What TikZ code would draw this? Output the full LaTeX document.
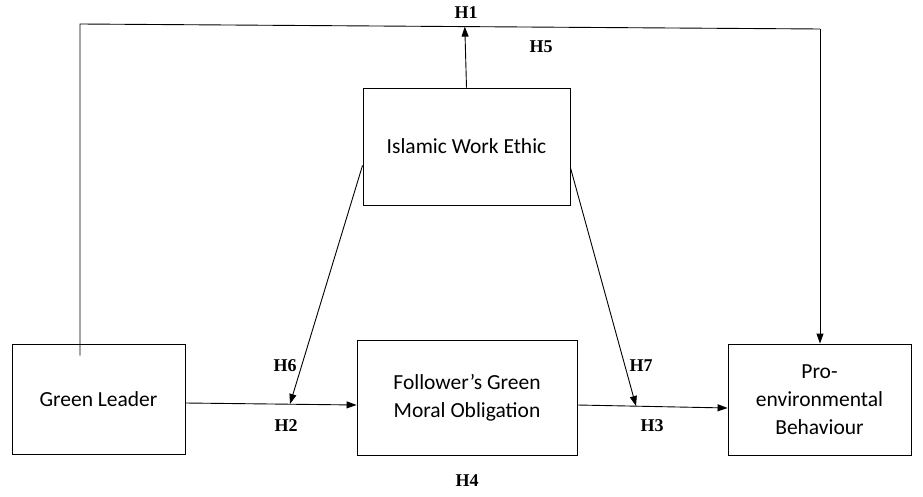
\documentclass[tikz,border=0pt]{standalone}
\usepackage{fontspec}
\setmainfont{Liberation Serif}
\newfontfamily\boxfont{Carlito}
\usetikzlibrary{arrows.meta,calc}

\tikzset{
  varbox/.style={draw, line width=0.9pt, align=center, inner sep=0pt,
    font=\boxfont\fontsize{21.5}{28}\selectfont},
  hlabel/.style={font=\bfseries\fontsize{18}{20}\selectfont},
  link/.style={line width=0.9pt},
  arrowlink/.style={line width=0.9pt, -{Triangle[length=10pt,width=7pt]}}
}

\begin{document}
\begin{tikzpicture}[x=1pt,y=-1pt]
  \useasboundingbox (0,0) rectangle (923,497);

  % variabilele
  \node[varbox, minimum width=173, minimum height=110] (leader) at (98.5,399) {Green Leader};
  \node[varbox, minimum width=207, minimum height=117] (iwe) at (466.5,146.5) {Islamic Work Ethic};
  \node[varbox, minimum width=220, minimum height=115] (obligation) at (467,397.5) {Follower’s Green\\Moral Obligation};
  \node[varbox, minimum width=183, minimum height=111] (behaviour) at (819.5,399.5) {Pro-\\environmental\\Behaviour};

  % linia de sus
  \coordinate (topleft) at (80,24);
  \coordinate (topright) at (820,29);
  \coordinate (topmid) at ($(topleft)!0.52!(topright)$);
  \draw[link] (leader.north -| topleft) ++(0,12) -- (topleft) -- (topright);
  \draw[arrowlink] (topright) -- (behaviour.north -| topright);
  \draw[arrowlink] (iwe.north) -- (topmid);

  % efectele directe
  \draw[arrowlink] (leader.east |- 0,403) coordinate (gl) -- (obligation.west |- 0,405);
  \draw[arrowlink] (obligation.east |- 0,405) -- (behaviour.west |- 0,408);

  % moderarea
  \coordinate (modleft) at (290,404);
  \coordinate (modright) at (636,406);
  \draw[arrowlink] ($(iwe.south west)!0.34!(iwe.north west)$) -- (modleft);
  \draw[arrowlink] ($(iwe.south east)!0.32!(iwe.north east)$) -- (modright);

  % ipotezele
  \node[hlabel] (h1) at (466,13) {H1};
  \node[hlabel] (h5) at (541,47) {H5};
  \node[hlabel] (h6) at (285,366) {H6};
  \node[hlabel] (h7) at (641,366) {H7};
  \node[hlabel] (h2) at (286,426) {H2};
  \node[hlabel] (h3) at (652,426) {H3};
  \node[hlabel] (h4) at (467,481) {H4};
\end{tikzpicture}
\end{document}
